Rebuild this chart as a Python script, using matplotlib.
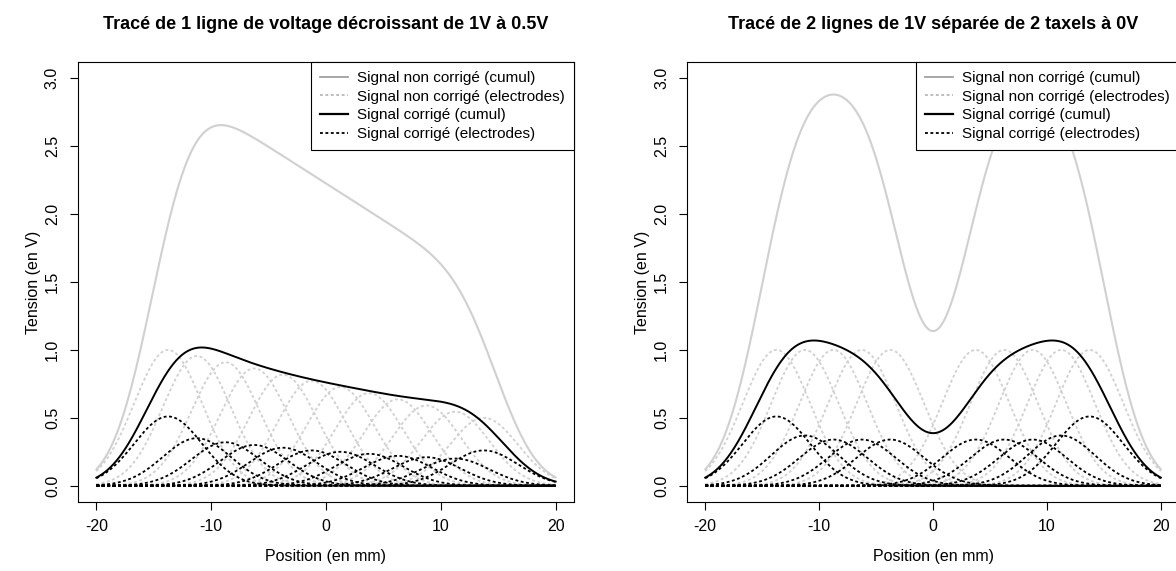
import numpy as np
import matplotlib
matplotlib.use("Agg")
import matplotlib.pyplot as plt
from matplotlib.lines import Line2D

plt.rcParams["font.family"] = ["Liberation Sans", "DejaVu Sans"]
plt.rcParams["axes.unicode_minus"] = False

# electrode centres (mm), spaced 2.5 mm
electrodes = [-13.75, -11.25, -8.75, -6.25, -3.75, -1.25, 1.25, 3.75, 6.25, 8.75, 11.25, 13.75]
electrode_sigma = 2.96  # width of each electrode response (mm)

# left panel: line decreasing from 1V to 0.5V
left_raw = [1.0, 0.955, 0.909, 0.864, 0.818, 0.773, 0.727, 0.682, 0.636, 0.591, 0.545, 0.5]
left_corr = [0.51, 0.35, 0.32, 0.30, 0.28, 0.26, 0.25, 0.235, 0.22, 0.21, 0.20, 0.26]

# right panel: two 1V groups separated by 2 taxels at 0V
right_raw = [1.0, 1.0, 1.0, 1.0, 1.0, 0.0, 0.0, 1.0, 1.0, 1.0, 1.0, 1.0]
right_corr = [0.51, 0.37, 0.34, 0.34, 0.34, 0.0, 0.0, 0.34, 0.34, 0.34, 0.37, 0.51]

titles = ["Tracé de 1 ligne de voltage décroissant de 1V à 0.5V",
          "Tracé de 2 lignes de 1V séparée de 2 taxels à 0V"]
legend_labels = ["Signal non corrigé (cumul)", "Signal non corrigé (electrodes)",
                 "Signal corrigé (cumul)", "Signal corrigé (electrodes)"]

x = np.linspace(-20, 20, 801)
light = "#d0d0d0"
dots = (1.6, 1.4)


def responses(amps):
    return [a * np.exp(-(x - c) ** 2 / (2 * electrode_sigma ** 2)) for c, a in zip(electrodes, amps)]


fig = plt.figure(figsize=(11.76, 5.71), dpi=100)
boxes = [[0.0663, 0.1208, 0.4218, 0.7706], [0.5842, 0.1208, 0.4184, 0.7706]]

for box, title, raw, corr in zip(boxes, titles, [left_raw, right_raw], [left_corr, right_corr]):
    ax = fig.add_axes(box)
    raw_curves = responses(raw)
    corr_curves = responses(corr)
    for c in raw_curves:
        ax.plot(x, c, color=light, lw=1.3, dashes=dots)
    ax.plot(x, np.sum(raw_curves, axis=0), color=light, lw=1.5)
    for c in corr_curves:
        ax.plot(x, c, color="black", lw=1.3, dashes=dots)
    ax.plot(x, np.sum(corr_curves, axis=0), color="black", lw=1.4)

    ax.set_xlim(-21.6, 21.6)
    ax.set_ylim(-0.12, 3.12)
    ax.set_xticks([-20, -10, 0, 10, 20])
    ax.set_yticks([0, 0.5, 1.0, 1.5, 2.0, 2.5, 3.0])
    ax.set_yticklabels(["0.0", "0.5", "1.0", "1.5", "2.0", "2.5", "3.0"], rotation=90, va="center")
    ax.tick_params(length=6, width=0.8, labelsize=11.5)
    ax.tick_params(axis="x", pad=6)
    ax.tick_params(axis="y", pad=7)
    for s in ax.spines.values():
        s.set_linewidth(0.8)
    ax.set_xlabel("Position (en mm)", fontsize=11.5, labelpad=11)
    ax.set_ylabel("Tension (en V)", fontsize=11.5, labelpad=3)
    ax.set_title(title, fontsize=13, fontweight="bold", pad=24)

    handles = [Line2D([], [], color="#a0a0a0", lw=1.3),
               Line2D([], [], color="#b8b8b8", lw=1.3, dashes=dots),
               Line2D([], [], color="black", lw=1.6),
               Line2D([], [], color="black", lw=1.3, dashes=dots)]
    leg = ax.legend(handles, legend_labels, loc="upper right", borderaxespad=0,
                    fancybox=False, framealpha=1, edgecolor="black", fontsize=11,
                    handlelength=1.8, handletextpad=0.6, labelspacing=0.3, borderpad=0.6)
    leg.get_frame().set_linewidth(0.8)

fig.savefig("out.png", dpi=100)
